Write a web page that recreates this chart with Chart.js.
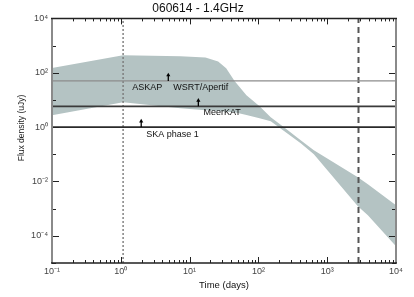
<!DOCTYPE html>
<html>
<head>
<meta charset="utf-8">
<script src="https://cdn.jsdelivr.net/npm/chart.js@4/dist/chart.umd.min.js"></script>
<style>
  html, body { margin: 0; padding: 0; background: #fff; }
</style>
</head>
<body>
<canvas id="lightCurve" width="414" height="297"></canvas>
<script>
// band: time (days) vs flux density (uJy)
const timeDays  = [0.1, 1.08, 7.35, 17, 26, 34, 45, 67, 104, 151, 233, 412, 640, 2790, 3900, 10000];
const fluxUpper = [149, 437, 401, 368, 262, 148, 50, 15, 5.8, 2.3, 1.0, 0.33, 0.14, 0.0143, 0.0079, 0.00133];
const fluxLower = [2.72, 8.17, 4.91, 4.2, 3.9, 3.7, 3.5, 2.8, 2.1, 1.63, 0.74, 0.254, 0.10, 0.00122, 0.00057, 0.0000415];

// telescope sensitivity limits (uJy) and arrow times (days)
const limitNames  = ['ASKAP', 'MeerKAT', 'SKA phase 1'];
const limitFlux   = [50, 5.8, 1.0];
const limitColors = ['#8c8c8c', '#3a3a3a', '#2a2a2a'];
const arrowTimes  = [4.9, 13.4, 1.98];

const burstTime = 1.08;
const lateTime = 2850;

const xTickVals   = [0.1, 1, 10, 100, 1000, 10000];
const xTickLabels = ['10\u207B\u00B9', '10\u2070', '10\u00B9', '10\u00B2', '10\u00B3', '10\u2074'];
const yTickVals   = [1e-4, 1e-2, 1, 1e2, 1e4];
const yTickLabels = ['10\u207B\u2074', '10\u207B\u00B2', '10\u2070', '10\u00B2', '10\u2074'];

// text notes: label, time, flux
const noteText = ['ASKAP', 'WSRT/Apertif', 'MeerKAT', 'SKA phase 1'];
const noteTime = [1.47, 5.8, 15.9, 2.34];
const noteFlux = [29, 29, 3.5, 0.54];

const FONT = '"Liberation Sans", Arial, sans-serif';
const bandColor = '#b4c3c3';

const datasets = [];

datasets.push({
    data: timeDays.map((t, i) => ({x: t, y: fluxUpper[i]})),
    borderWidth: 0,
    backgroundColor: bandColor,
    fill: '+1',
    order: 10,
});
datasets.push({
    data: timeDays.map((t, i) => ({x: t, y: fluxLower[i]})),
    borderWidth: 0,
    fill: false,
    order: 10,
});

limitFlux.forEach((f, i) => {
    datasets.push({
        data: [{x: 0.1, y: f}, {x: 10000, y: f}],
        borderColor: limitColors[i],
        borderWidth: i === 0 ? 1.3 : 1.6,
        fill: false,
        order: 2,
    });
    // small upward arrow
    datasets.push({
        data: [{x: arrowTimes[i], y: f}, {x: arrowTimes[i], y: f * 1.65}],
        borderColor: '#000',
        backgroundColor: '#000',
        borderWidth: 1.3,
        pointStyle: 'triangle',
        pointRadius: [0, 2.4],
        pointBorderWidth: 0,
        fill: false,
        order: 1,
    });
});

datasets.push({
    data: [{x: burstTime, y: 1e-5}, {x: burstTime, y: 1e4}],
    borderColor: '#7a7a7a',
    borderWidth: 1.4,
    borderDash: [2, 2],
    fill: false,
    order: 3,
});
datasets.push({
    data: [{x: lateTime, y: 1e-5}, {x: lateTime, y: 1e4}],
    borderColor: '#555',
    borderWidth: 2,
    borderDash: [6, 4],
    fill: false,
    order: 3,
});

const frame = {
    id: 'frame',
    afterDatasetsDraw(chart) {
        const {ctx, chartArea: a, scales: {x, y}} = chart;
        ctx.save();

        // notes
        ctx.fillStyle = '#111';
        ctx.font = '9px ' + FONT;
        ctx.textBaseline = 'middle';
        noteText.forEach((t, i) => {
            ctx.fillText(t, x.getPixelForValue(noteTime[i]), y.getPixelForValue(noteFlux[i]));
        });

        // y axis title, sits a bit above centre in the original
        ctx.save();
        ctx.translate(22, 128);
        ctx.rotate(-Math.PI / 2);
        ctx.textAlign = 'center';
        ctx.fillStyle = '#222';
        ctx.font = '8.5px ' + FONT;
        ctx.fillText('Flux density (uJy)', 0, 0);
        ctx.restore();

        // inward ticks
        ctx.strokeStyle = '#222';
        ctx.lineWidth = 1;
        ctx.beginPath();
        for (let d = -5; d <= 4; d++) {
            const py = Math.round(y.getPixelForValue(Math.pow(10, d))) + 0.5;
            const len = d % 2 === 0 ? 7 : 4;
            ctx.moveTo(a.left, py); ctx.lineTo(a.left + len, py);
            ctx.moveTo(a.right, py); ctx.lineTo(a.right - len, py);
        }
        for (let d = -1; d <= 4; d++) {
            for (let m = 1; m <= 9; m++) {
                const v = m * Math.pow(10, d);
                if (v > 10000) break;
                const px = Math.round(x.getPixelForValue(v)) + 0.5;
                const len = m === 1 ? 6 : 3;
                ctx.moveTo(px, a.bottom); ctx.lineTo(px, a.bottom - len);
                ctx.moveTo(px, a.top); ctx.lineTo(px, a.top + len);
            }
        }
        ctx.stroke();

        // box
        ctx.lineWidth = 2;
        ctx.strokeStyle = '#8a8a8a';
        ctx.beginPath();
        ctx.moveTo(a.left, a.top); ctx.lineTo(a.left, a.bottom);
        ctx.moveTo(a.right, a.top); ctx.lineTo(a.right, a.bottom);
        ctx.stroke();
        ctx.lineWidth = 1.5;
        ctx.strokeStyle = '#222';
        ctx.beginPath();
        ctx.moveTo(a.left - 1, a.bottom); ctx.lineTo(a.right + 1, a.bottom);
        ctx.moveTo(a.left - 1, a.top); ctx.lineTo(a.right + 1, a.top);
        ctx.stroke();
        ctx.restore();
    }
};

new Chart(document.getElementById('lightCurve'), {
    type: 'line',
    data: {datasets: datasets},
    options: {
        responsive: false,
        animation: false,
        layout: {padding: {left: 0, right: 18, top: 0, bottom: 6}},
        elements: {point: {radius: 0}, line: {tension: 0}},
        plugins: {
            legend: {display: false},
            tooltip: {enabled: false},
            title: {
                display: true,
                text: '060614 - 1.4GHz',
                color: '#111',
                font: {family: FONT, size: 12, weight: 'normal'},
                padding: {top: 1, bottom: 3},
            },
        },
        scales: {
            x: {
                type: 'logarithmic',
                min: 0.1,
                max: 10000,
                afterBuildTicks: s => { s.ticks = xTickVals.map(v => ({value: v})); },
                afterFit: s => { s.height = 28; },
                grid: {display: false, drawTicks: false},
                border: {display: false},
                ticks: {
                    autoSkip: false,
                    maxRotation: 0,
                    padding: 3,
                    color: '#444',
                    font: {family: FONT, size: 9},
                    callback: (v, i) => xTickLabels[i],
                },
                title: {
                    display: true,
                    text: 'Time (days)',
                    color: '#111',
                    font: {family: FONT, size: 9.5},
                    padding: {top: 0, bottom: 0},
                },
            },
            y: {
                type: 'logarithmic',
                min: 1e-5,
                max: 1e4,
                afterBuildTicks: s => { s.ticks = yTickVals.map(v => ({value: v})); },
                afterFit: s => { s.width = 52; },
                grid: {display: false, drawTicks: false},
                border: {display: false},
                ticks: {
                    autoSkip: false,
                    padding: 4,
                    color: '#444',
                    font: {family: FONT, size: 9},
                    callback: (v, i) => yTickLabels[i],
                },
            },
        },
    },
    plugins: [frame],
});
</script>
</body>
</html>
